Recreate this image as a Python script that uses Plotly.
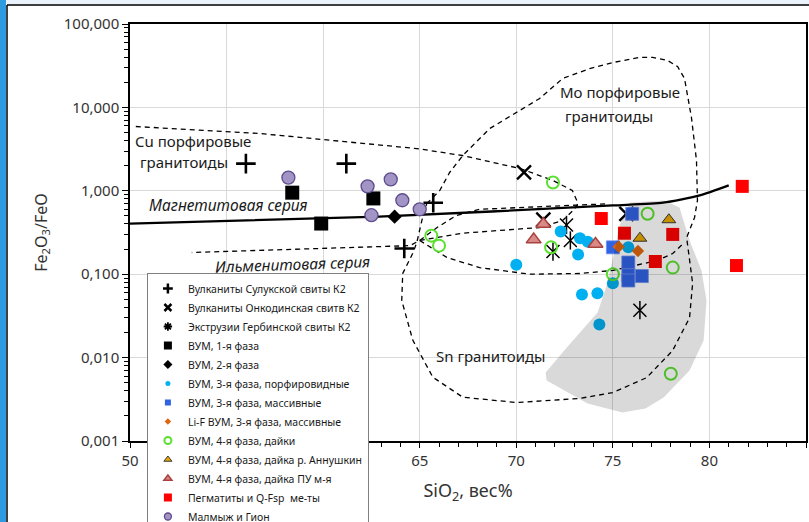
import plotly.graph_objects as go

# ---------------- data ----------------
plus_x = [56.0, 61.2, 65.7, 64.2]
plus_y = [2.12, 2.12, 0.72, 0.203]
xmark_x = [70.4, 75.7, 71.4]
xmark_y = [1.66, 0.53, 0.45]
ast_x = [72.6, 72.8, 71.9, 76.4]
ast_y = [0.39, 0.254, 0.187, 0.037]
vum1_x = [58.4, 59.9, 62.6]
vum1_y = [0.95, 0.405, 0.81]
vum2_x = [63.7]
vum2_y = [0.49]
cyan_x = [70.0, 72.3, 73.3, 73.7, 73.2, 75.8, 73.4, 74.2, 74.3, 75.0]
cyan_y = [0.13, 0.325, 0.27, 0.245, 0.172, 0.21, 0.057, 0.059, 0.025, 0.078]
blue_x = [76.0, 75.0, 75.8, 75.8, 76.5, 75.8]
blue_y = [0.53, 0.21, 0.138, 0.097, 0.095, 0.084]
orange_x = [75.3, 76.3]
orange_y = [0.214, 0.19]
green_x = [65.6, 66.0, 71.9, 71.8, 76.8, 78.1, 75.0, 78.0]
green_y = [0.29, 0.22, 1.26, 0.21, 0.53, 0.12, 0.10, 0.0064]
gold_x = [77.9, 76.4]
gold_y = [0.45, 0.27]
rose_x = [71.4, 70.9, 74.1]
rose_y = [0.40, 0.26, 0.23]
red_x = [74.4, 75.6, 78.1, 77.2, 81.7, 81.4]
red_y = [0.465, 0.31, 0.30, 0.142, 1.13, 0.127]
purple_x = [58.2, 62.3, 63.5, 64.1, 62.5, 65.0]
purple_y = [1.44, 1.13, 1.37, 0.77, 0.51, 0.60]

# boundary lines
mag_x = [50.0, 62.9, 75.0, 77.6, 79.5, 81.0]
mag_y = [0.405, 0.49, 0.667, 0.72, 0.88, 1.16]

cu_x = [50.3, 56.7, 64.85, 67.2, 70.2, 71.9, 72.9, 73.2, 73.0, 72.4, 71.2, 67.2, 65.0, 64.5, 53.2]
cu_y = [5.9, 4.87, 3.21, 2.65, 1.85, 1.33, 1.01, 0.705, 0.6, 0.44, 0.363, 0.31, 0.254, 0.22, 0.182]

par_x = [65.0, 65.9, 66.9, 68.1, 74.8]
par_y = [0.254, 0.363, 0.506, 0.60, 0.70]

loop_x = [65.36, 66.04, 66.55, 67.23, 68.62, 70.02, 71.21, 72.40, 73.80, 74.99, 76.38, 77.06,
          77.83, 78.35, 78.71, 79.07, 79.33, 79.38, 79.23, 78.82, 78.97, 79.13, 78.97, 78.09,
          76.75, 74.99, 73.28, 70.02, 67.23, 65.68, 64.64, 64.07, 64.12, 64.64, 64.85, 65.11, 65.36]
loop_y = [0.70, 1.01, 1.66, 2.65, 5.57, 8.67, 12.8, 22.2, 29.2, 34.5, 39.7, 39.7,
          36.5, 30.9, 22.2, 7.55, 2.31, 0.766, 0.479, 0.275, 0.138, 0.0775, 0.030, 0.0121,
          0.00575, 0.0038, 0.00324, 0.00289, 0.00335, 0.00582, 0.0162, 0.0484, 0.102, 0.178, 0.24, 0.44, 0.70]

sn_x = [65.0, 66.4, 68.1, 70.7, 73.3, 75.0, 77.3, 78.1, 78.7]
sn_y = [0.254, 0.159, 0.12, 0.10, 0.102, 0.111, 0.146, 0.177, 0.24]

gray_x = [75.87, 77.68, 78.45, 78.97, 79.59, 79.85, 79.70, 78.97, 77.63, 76.69, 75.50, 73.69,
          71.57, 71.52, 72.66, 74.21, 74.68, 75.04, 75.35]
gray_y = [0.724, 0.765, 0.63, 0.254, 0.111, 0.0484, 0.016, 0.0070, 0.00332, 0.00245, 0.00219,
          0.00281, 0.00531, 0.00662, 0.0136, 0.0348, 0.0733, 0.168, 0.384]

legend_names = [
    "Вулканиты Сулукской свиты К2",
    "Вулканиты Онкодинская свитв К2",
    "Экструзии Гербинской свиты К2",
    "ВУМ, 1-я фаза",
    "ВУМ, 2-я фаза",
    "ВУМ, 3-я фаза, порфировидные",
    "ВУМ, 3-я фаза, массивные",
    "Li-F ВУМ, 3-я фаза, массивные",
    "ВУМ, 4-я фаза, дайки",
    "ВУМ, 4-я фаза, дайка р. Аннушкин",
    "ВУМ, 4-я фаза, дайка ПУ м-я",
    "Пегматиты и Q-Fsp  ме-ты",
    "Малмыж и Гион",
]

FONT = "Noto Sans"
fig = go.Figure()

dash = "5px,4px"
for lx, ly in [(cu_x, cu_y), (par_x, par_y), (loop_x, loop_y), (sn_x, sn_y)]:
    fig.add_trace(go.Scatter(x=lx, y=ly, mode="lines", line=dict(color="black", width=1.3, dash=dash),
                             showlegend=False, hoverinfo="skip"))
fig.add_trace(go.Scatter(x=mag_x, y=mag_y, mode="lines", line=dict(color="black", width=2.3, shape="spline", smoothing=0.6),
                         showlegend=False, hoverinfo="skip"))

# marker styles: (x, y, marker dict, legend marker dict)
styles = [
    (plus_x, plus_y, dict(symbol="cross-thin", size=14, line=dict(color="black", width=2.6), color="black"),
     dict(symbol="cross-thin", size=7, line=dict(color="black", width=2.5), color="black")),
    (xmark_x, xmark_y, dict(symbol="x-thin", size=14, line=dict(color="black", width=2.4), color="black"),
     dict(symbol="x-thin", size=7, line=dict(color="black", width=2.5), color="black")),
    (ast_x, ast_y, dict(symbol="x-thin", size=13, line=dict(color="black", width=1.5), color="black"),
     dict(symbol="asterisk", size=7, line=dict(color="black", width=1.8), color="black")),
    (vum1_x, vum1_y, dict(symbol="square", size=14, color="black"),
     dict(symbol="square", size=8, color="black")),
    (vum2_x, vum2_y, dict(symbol="diamond", size=11, color="black"),
     dict(symbol="diamond", size=7, color="black")),
    (cyan_x, cyan_y, dict(symbol="circle", size=12, color="#00B0F0"),
     dict(symbol="circle", size=5, color="#00B0F0")),
    (blue_x, blue_y, dict(symbol="square", size=13, color="#3062E2", line=dict(color="#7090F0", width=0.8)),
     dict(symbol="square", size=6, color="#3062E2")),
    (orange_x, orange_y, dict(symbol="diamond", size=9.5, color="#E0650F"),
     dict(symbol="diamond", size=5, color="#E0650F")),
    (green_x, green_y, dict(symbol="circle-open", size=12, line=dict(color="#5BE030", width=2), color="#5BE030"),
     dict(symbol="circle-open", size=7, line=dict(color="#5BE030", width=2), color="#5BE030")),
    (gold_x, gold_y, dict(symbol="triangle-up", size=12, color="#E8A800", line=dict(color="#3a3a3a", width=1)),
     dict(symbol="triangle-up", size=7, color="#E8A800", line=dict(color="#3a3a3a", width=1))),
    (rose_x, rose_y, dict(symbol="triangle-up", size=13, color="#D98A88", line=dict(color="#A8423F", width=1.5)),
     dict(symbol="triangle-up", size=7, color="#D98A88", line=dict(color="#A8423F", width=1.5))),
    (red_x, red_y, dict(symbol="square", size=13, color="#FF0000"),
     dict(symbol="square", size=8, color="#FF0000")),
    (purple_x, purple_y, dict(symbol="circle", size=13, color="#A394C6", line=dict(color="#5E4C8C", width=1.3)),
     dict(symbol="circle", size=7, color="#A394C6", line=dict(color="#5E4C8C", width=1.3))),
]

for i, (sx, sy, mk, lmk) in enumerate(styles):
    fig.add_trace(go.Scatter(x=sx, y=sy, mode="markers", marker=mk, showlegend=False, hoverinfo="skip"))
    if i == 2:
        fig.add_trace(go.Scatter(x=sx, y=sy, mode="markers",
                                 marker=dict(symbol="line-ns", size=13, line=dict(color="black", width=1.5)),
                                 showlegend=False, hoverinfo="skip"))

# gray field drawn on top (semi transparent)
fig.add_trace(go.Scatter(x=gray_x, y=gray_y, mode="lines", fill="toself", fillcolor="rgba(0,0,0,0.15)",
                         line=dict(width=0), showlegend=False, hoverinfo="skip"))

# legend-only entries
for (sx, sy, mk, lmk), name in zip(styles, legend_names):
    fig.add_trace(go.Scatter(x=[None], y=[None], mode="markers", marker=lmk, name=name, showlegend=True))

ann_font = dict(family=FONT, size=15, color="#1a1a1a")
ann_font_i = dict(family=FONT, size=15.5, color="#1a1a1a")
annotations = [
    dict(x=50.15, y=0.603, text="Cu порфировые", xanchor="left", font=ann_font),
    dict(x=50.4, y=0.351, text="гранитоиды", xanchor="left", font=ann_font),
    dict(x=72.14, y=1.179, text="Мо порфировые", xanchor="left", font=ann_font),
    dict(x=72.4, y=0.891, text="гранитоиды", xanchor="left", font=ann_font),
    dict(x=50.9, y=-0.176, text="<i>Магнетитовая серия</i>", xanchor="left", font=ann_font_i),
    dict(x=58.4, y=-0.88, text="<i>Ильменитовая серия</i>", xanchor="center", textangle=-2, font=ann_font_i),
    dict(x=68.7, y=-1.975, text="Sn гранитоиды", xanchor="center", font=ann_font),
]
for a in annotations:
    a.update(xref="x", yref="y", showarrow=False, yanchor="middle")

def px2paper_x(px):
    return (px - 130) / 676.0

def px2paper_y(py):
    return 1 - (py - 24) / 417.0

shapes = [
    dict(type="rect", xref="paper", yref="paper", x0=px2paper_x(0), x1=px2paper_x(6),
         y0=px2paper_y(522), y1=px2paper_y(0), fillcolor="#2E9BE0", line=dict(width=0), layer="above"),
    dict(type="rect", xref="paper", yref="paper", x0=px2paper_x(6), x1=px2paper_x(809),
         y0=px2paper_y(4.5), y1=px2paper_y(0), fillcolor="#EAF3FB", line=dict(width=0), layer="above"),
    dict(type="line", xref="paper", yref="paper", x0=px2paper_x(7), x1=px2paper_x(7),
         y0=px2paper_y(522), y1=px2paper_y(5), line=dict(color="black", width=1.5), layer="above"),
    dict(type="line", xref="paper", yref="paper", x0=px2paper_x(7), x1=px2paper_x(809),
         y0=px2paper_y(5), y1=px2paper_y(5), line=dict(color="black", width=1.5), layer="above"),
]

fig.update_layout(
    width=809, height=522,
    margin=dict(l=130, r=3, t=24, b=81, autoexpand=False),
    paper_bgcolor="white", plot_bgcolor="white",
    separators=", ",
    font=dict(family=FONT, color="#333333"),
    annotations=annotations,
    shapes=shapes,
    legend=dict(x=0.025, y=px2paper_y(273), xanchor="left", yanchor="top", bgcolor="white",
                bordercolor="#7f7f7f", borderwidth=1, font=dict(family=FONT, size=10.5, color="#1a1a1a"),
                tracegroupgap=0, itemwidth=30, maxheight=600),
    xaxis=dict(range=[50, 85], dtick=5, tick0=50, showgrid=True, gridcolor="#D9D9D9", gridwidth=1,
               zeroline=False, showline=True, linecolor="black", linewidth=1.5, mirror=True,
               ticks="outside", ticklen=5, tickcolor="black", tickwidth=1.2,
               minor=dict(dtick=1, ticks="outside", ticklen=4, tickcolor="black", showgrid=False),
               tickfont=dict(family=FONT, size=15, color="#333333"),
               title=dict(text="SiO<sub>2</sub>, вес%", font=dict(family=FONT, size=18, color="#333333"), standoff=16),
               automargin=False),
    yaxis=dict(type="log", range=[-3, 2], dtick=1, tickformat=".3f", showgrid=True, gridcolor="#D9D9D9",
               gridwidth=1, zeroline=False, showline=True, linecolor="black", linewidth=1.5, mirror=True,
               ticks="outside", ticklen=6, tickcolor="black", tickwidth=1.2,
               minor=dict(dtick="D1", ticks="outside", ticklen=4, tickcolor="black", showgrid=False),
               tickfont=dict(family=FONT, size=15, color="#333333"),
               title=dict(text="Fe<sub>2</sub>O<sub>3</sub>/FeO", font=dict(family=FONT, size=16, color="#333333"), standoff=12),
               automargin=False),
)

fig.write_html("out.html")
